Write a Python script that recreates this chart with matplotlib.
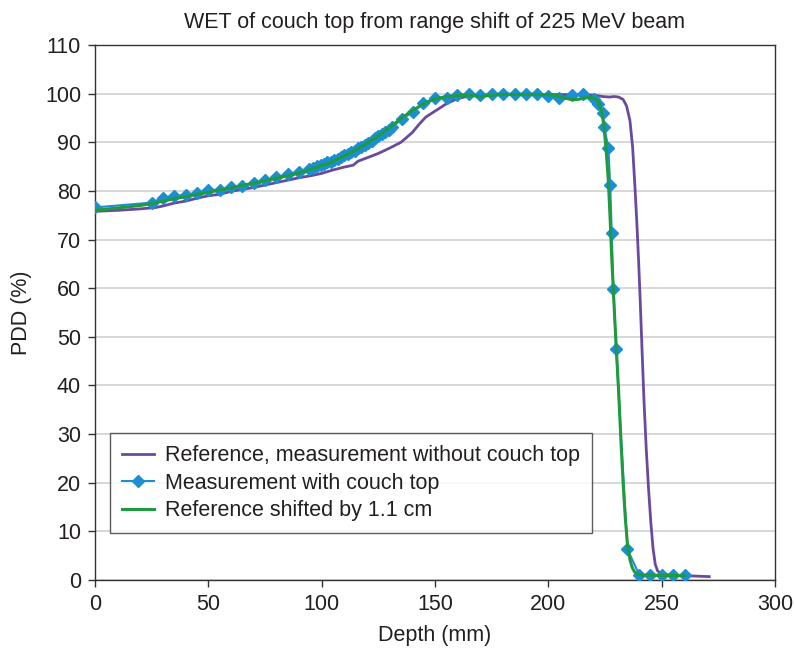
import numpy as np
import matplotlib
matplotlib.use("Agg")
import matplotlib.pyplot as plt

# reference curve, measured without the couch top
ref_depth = [0, 10, 20, 27, 30, 35, 40, 45, 50, 55, 60, 65, 70, 75, 80, 85, 90, 95,
             100, 105, 110, 114, 116, 120, 125, 130, 135, 140, 143, 146, 150, 155,
             160, 165, 170, 180, 200, 215, 220, 224, 227, 229, 231, 233, 234.5, 236,
             237.2, 238.2, 239, 239.8, 240.5, 241.3, 242.2, 243.2, 244.2, 245.2,
             246.2, 247.2, 248.2, 249.5, 252, 260, 271]
ref_pdd = [75.8, 76.0, 76.3, 76.6, 76.9, 77.5, 77.9, 78.5, 79.0, 79.3, 79.9, 80.3,
           80.7, 81.2, 81.7, 82.2, 82.7, 83.1, 83.6, 84.3, 84.9, 85.3, 86.1, 86.8,
           87.7, 88.8, 90.0, 92.0, 93.7, 95.2, 96.4, 97.9, 99.0, 99.5, 99.7, 99.8,
           99.8, 99.8, 99.7, 99.4, 99.3, 99.4, 99.3, 98.8, 97.5, 94.5, 89, 81, 74,
           66, 58, 48, 37, 27, 19, 12, 6.5, 3.2, 1.9, 1.4, 1.1, 0.9, 0.7]

# measurement with couch top
meas_depth = [0, 25, 30, 35, 40, 45, 50, 55, 60, 65, 70, 75, 80, 85, 90,
              94.2, 96, 97.8, 99.5, 101, 102.5, 104, 105.5, 107, 108.5, 110,
              111.5, 113, 114.5, 116, 117.5, 119, 120.5, 122, 123.5, 125, 126.5,
              128, 129.5, 131,
              135.3, 140.5, 144.9, 150, 155.2, 159.6, 165.2, 169.9, 175.1, 180.2,
              185.3, 190.2, 194.9, 200, 204.8, 210.4, 215.5, 220.3, 222.1, 224,
              224.6, 226.5, 227.3, 228, 228.7, 229.9, 234.9, 240.2, 245, 250,
              255.2, 260.4]
meas_pdd = [76.6, 77.6, 78.6, 79.0, 79.1, 79.6, 80.2, 80.2, 80.9, 81.0, 81.7, 82.2,
            82.9, 83.4, 83.8,
            84.6, 84.8, 85.1, 85.3, 85.6, 85.9, 86.0, 86.4, 86.6, 87.0, 87.3,
            87.6, 88.0, 88.3, 88.8, 89.1, 89.5, 89.9, 90.3, 90.8, 91.2, 91.7,
            92.2, 92.6, 93.1,
            94.7, 96.3, 98.0, 99.2, 99.2, 99.75, 99.9, 99.7, 100, 100, 100, 100,
            100, 99.5, 99.0, 99.75, 100, 98.9, 97.8, 96.1, 93.2, 88.9, 81.2,
            71.3, 59.9, 47.5, 6.3, 1.0, 1.0, 1.0, 1.0, 1.0]

# reference shifted by 1.1 cm
shift_depth = [0, 10, 20, 25, 30, 35, 40, 45, 50, 55, 60, 65, 70, 75, 80, 85, 90,
               95, 100, 103, 105, 110, 115, 120, 125, 130, 135, 140, 145, 150, 155,
               160, 164, 167, 170, 173, 178, 190, 200, 204, 207, 210, 213, 216, 219,
               221, 222.5, 223.5, 224.5, 225.5, 226.5, 227.3, 228, 228.7, 229.5,
               230.2, 231, 232, 233, 234, 235, 236, 237, 238, 239.5, 242, 260]
shift_pdd = [76.0, 76.5, 77.0, 77.4, 77.9, 78.4, 78.8, 79.3, 79.7, 80.2, 80.6, 81.1,
             81.6, 82.1, 82.6, 83.1, 83.7, 84.4, 85.2, 85.6, 86.1, 87.2, 88.4, 89.8,
             91.3, 93.0, 94.9, 96.5, 97.9, 98.9, 99.4, 99.6, 99.7, 99.6, 99.3, 99.6,
             99.8, 99.8, 99.8, 99.6, 99.1, 98.8, 98.8, 99.1, 99.2, 98.9, 98.0, 96.5,
             93.5, 88.5, 82, 74, 66, 59.5, 52, 46, 39, 29, 20, 12.5, 7.0, 4.2, 2.6,
             1.7, 1.2, 1.0, 0.9]

x_ticks = [0, 50, 100, 150, 200, 250, 300]
y_ticks = list(range(0, 111, 10))

plt.rcParams['font.family'] = ['Liberation Sans', 'DejaVu Sans']
txt = '#231f20'
fs = 15.5

fig = plt.figure(figsize=(7.95, 6.49), dpi=100)
ax = fig.add_axes([0.1195, 0.1063, 0.8553, 0.8244])

ax.plot(ref_depth, ref_pdd, color='#6a4a9c', lw=2.0,
        label='Reference, measurement without couch top', zorder=3)
ax.plot(meas_depth, meas_pdd, color='#1b8fd1', lw=1.5, marker='D', ms=6,
        mec='#1b8fd1', mfc='#1b8fd1',
        label='Measurement with couch top', zorder=4)
ax.plot(shift_depth, shift_pdd, color='#1f9a3f', lw=2.2,
        label='Reference shifted by 1.1 cm', zorder=5)

ax.set_xlim(0, 300)
ax.set_ylim(0, 110)
ax.set_xticks(x_ticks)
ax.set_yticks(y_ticks)
ax.yaxis.grid(True, color='#d4d4d4', lw=1.3)
ax.set_axisbelow(True)
for s in ax.spines.values():
    s.set_color('#333333')
    s.set_linewidth(1.0)
ax.tick_params(direction='out', length=5, width=1, colors='#333333',
               labelcolor=txt, labelsize=fs, pad=5)

ax.set_xlabel('Depth (mm)', fontsize=fs, color=txt, labelpad=7)
ax.set_ylabel('PDD (%)', fontsize=fs, color=txt, labelpad=9)
ax.set_title('WET of couch top from range shift of 225 MeV beam',
             fontsize=fs, color=txt, pad=12)

leg = ax.legend(loc='lower left', bbox_to_anchor=(0.022, 0.088), fontsize=fs,
                frameon=True, fancybox=False, edgecolor='#333333',
                handlelength=1.5, handletextpad=0.5, borderpad=0.55,
                labelspacing=0.3, borderaxespad=0)
leg.get_frame().set_linewidth(1.0)
for t in leg.get_texts():
    t.set_color(txt)

fig.savefig('out.png', dpi=100)
